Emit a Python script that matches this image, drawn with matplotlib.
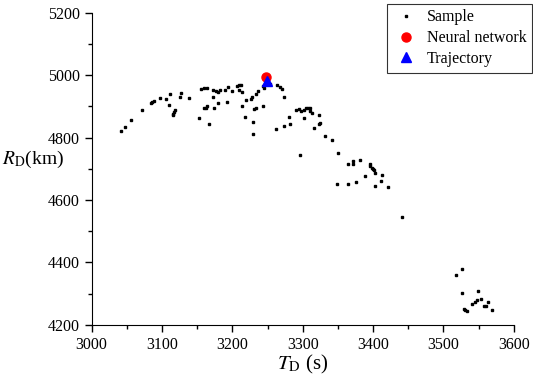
import matplotlib.pyplot as plt
import numpy as np

plt.rcParams['font.family'] = ['Liberation Serif', 'DejaVu Serif']
plt.rcParams['mathtext.fontset'] = 'stix'

# sample points
t_sample = [3041, 3047, 3056, 3072, 3084, 3086, 3088, 3097, 3106, 3110, 3111,
            3115, 3116, 3117, 3119, 3125, 3127, 3139,
            3156, 3160, 3164, 3153, 3159, 3162, 3164, 3167, 3172,
            3173, 3177, 3180, 3183, 3174, 3179, 3190, 3194, 3193, 3199,
            3206, 3209, 3212, 3210, 3213, 3213, 3218, 3220, 3226, 3228,
            3229, 3230, 3231, 3234, 3233, 3236, 3243, 3245, 3243, 3253,
            3264, 3268, 3271, 3262, 3274, 3274, 3281, 3282, 3290, 3295, 3297,
            3302, 3302, 3304, 3307, 3310, 3311, 3313, 3323,
            3296, 3316, 3323, 3324, 3332, 3342, 3350, 3365, 3349, 3365,
            3371, 3372, 3382, 3395, 3396, 3399, 3400, 3401, 3403, 3412,
            3389, 3375, 3403, 3411, 3421, 3441,
            3527, 3518, 3526, 3549, 3540, 3545, 3548, 3553, 3564, 3558, 3560,
            3569, 3529, 3531, 3533]
r_sample = [4820, 4833, 4855, 4887, 4909, 4913, 4917, 4928, 4923, 4904, 4940,
            4872, 4874, 4881, 4887, 4931, 4942, 4926,
            4955, 4957, 4959, 4862, 4894, 4896, 4900, 4842, 4929,
            4951, 4950, 4947, 4951, 4894, 4911, 4952, 4962, 4913, 4950,
            4966, 4967, 4967, 4952, 4947, 4902, 4865, 4920, 4922, 4930,
            4810, 4850, 4891, 4895, 4939, 4950, 4964, 4960, 4902, 4971,
            4968, 4962, 4955, 4828, 4929, 4836, 4867, 4844, 4887, 4891, 4886,
            4888, 4863, 4894, 4894, 4894, 4884, 4879, 4872,
            4743, 4829, 4842, 4846, 4805, 4791, 4749, 4714, 4651, 4650,
            4725, 4715, 4728, 4715, 4710, 4703, 4698, 4695, 4685, 4681,
            4676, 4659, 4645, 4660, 4642, 4544,
            4380, 4360, 4302, 4308, 4268, 4275, 4280, 4284, 4275, 4260, 4262,
            4249, 4250, 4249, 4246]

t_nn = [3248]
r_nn = [4993]
t_traj = [3249]
r_traj = [4982]

fig = plt.figure(figsize=(5.33, 3.79), dpi=100)
ax = fig.add_axes([0.172, 0.1425, 0.792, 0.8245])

ax.plot(t_sample, r_sample, 's', color='black', markersize=2.0, linestyle='None', label='Sample')
ax.plot(t_nn, r_nn, 'o', color='red', markersize=6.5, linestyle='None', label='Neural network')
ax.plot(t_traj, r_traj, '^', color='blue', markersize=6.5, linestyle='None', label='Trajectory')

ax.set_xlim(3000, 3600)
ax.set_ylim(4200, 5200)
ax.set_xticks(range(3000, 3601, 100))
ax.set_yticks(range(4200, 5201, 200))
ax.set_xticks(range(3050, 3600, 100), minor=True)
ax.set_yticks(range(4300, 5200, 200), minor=True)

ax.spines['top'].set_visible(False)
ax.spines['right'].set_visible(False)
ax.tick_params(which='major', direction='out', length=5, width=1, labelsize=11.5)
ax.tick_params(which='minor', direction='out', length=3, width=1)

ax.set_xlabel(r'$T_{\mathrm{D}}$ (s)', fontsize=15)
ax.xaxis.set_label_coords(0.5, -0.09)
ax.set_ylabel(r'$R_{\mathrm{D}}$(km)', fontsize=14, rotation=0, ha='left', va='center')
ax.yaxis.set_label_coords(-0.213, 0.53)

leg = ax.legend(loc='upper right', bbox_to_anchor=(0.998, 0.99), bbox_transform=fig.transFigure,
                borderaxespad=0, frameon=True, fancybox=False, edgecolor='black', fontsize=11.5,
                handlelength=1.6, handletextpad=0.5, borderpad=0.35, labelspacing=0.3,
                markerscale=1.0)
leg.get_frame().set_linewidth(0.8)

fig.savefig('out.png', dpi=100)
